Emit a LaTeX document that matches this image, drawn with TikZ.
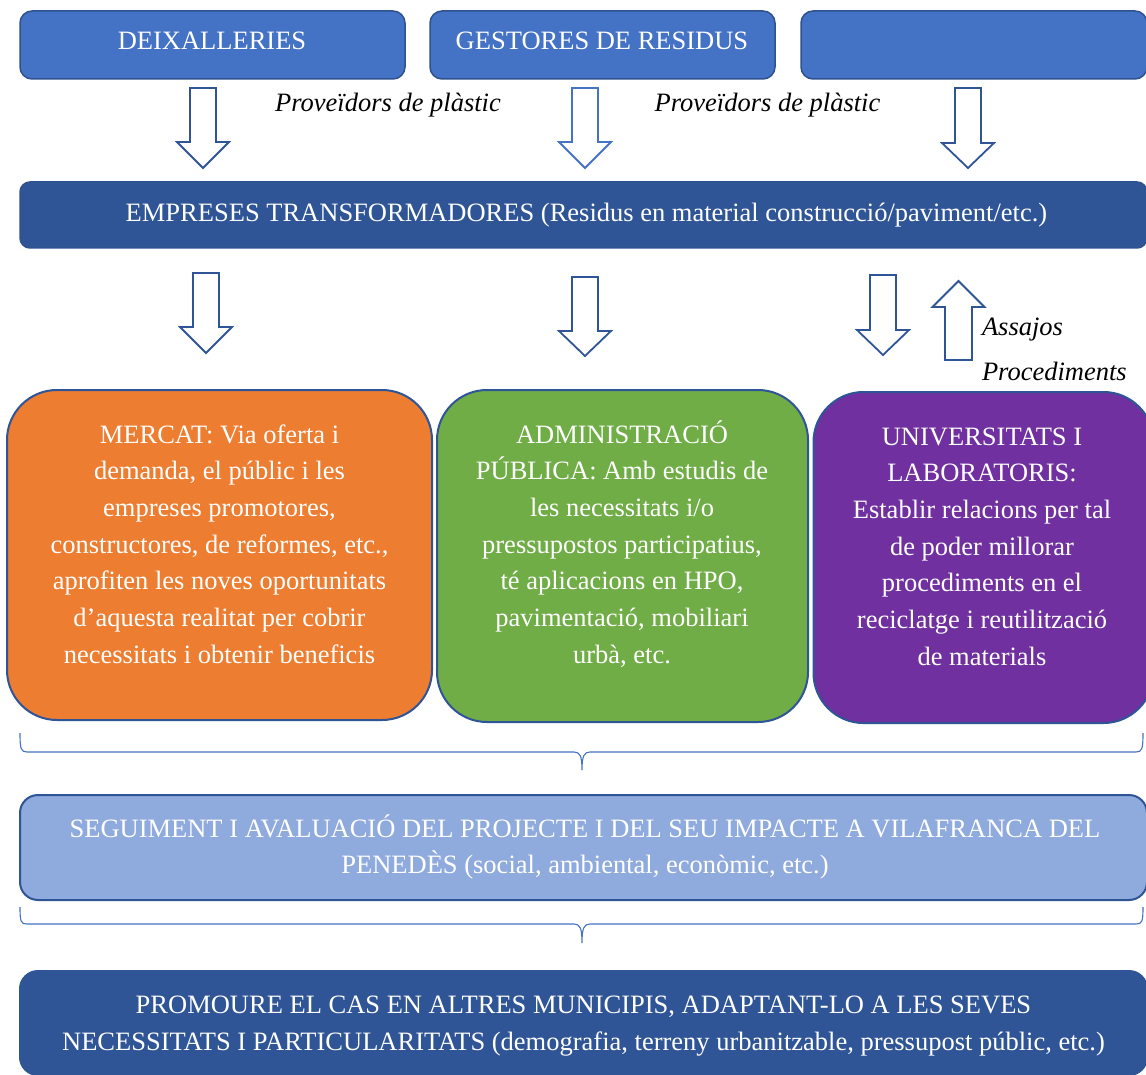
\documentclass[tikz,border=0pt]{standalone}
\usepackage{fontspec}
\setmainfont{Liberation Serif}
\definecolor{topblue}{HTML}{4472C4}
\definecolor{darkblue}{HTML}{2F5597}
\definecolor{edgeblue}{HTML}{2F528F}
\definecolor{orangebox}{HTML}{ED7D31}
\definecolor{greenbox}{HTML}{70AD47}
\definecolor{purplebox}{HTML}{7030A0}
\definecolor{lightbox}{HTML}{8FAADC}
\newcommand\downblk[5]{%
  \draw[blk,draw=#5] ({#1-13},#2) -- ({#1+13},#2) -- ({#1+13},#3) -- ({#1+26},#3)
    -- (#1,#4) -- ({#1-26},#3) -- ({#1-13},#3) -- cycle;}
\newcommand\upblk[5]{%
  \draw[blk,draw=#5] ({#1-13.5},#2) -- ({#1+13.5},#2) -- ({#1+13.5},#3) -- ({#1+26},#3)
    -- (#1,#4) -- ({#1-26},#3) -- ({#1-13.5},#3) -- cycle;}
\begin{document}
\begin{tikzpicture}[x=1pt,y=-1pt,
  every node/.style={inner sep=0pt, outer sep=0pt},
  txt/.style={font=\fontsize{26.5}{36.7}\selectfont, text=white, align=center},
  lbl/.style={font=\fontsize{26.5}{36.7}\selectfont\itshape, text=black},
  box/.style={draw=edgeblue, line width=1.5pt, anchor=north west},
  bigbox/.style={draw=darkblue, line width=2pt, anchor=north west, rounded corners=50pt},
  blk/.style={fill=white, line width=1.8pt, line join=miter},
  brc/.style={draw=topblue, line width=1.1pt}
]
\useasboundingbox (0,0) rectangle (1146,1075);
\fill[white] (0,0) rectangle (1146,1075);
\clip (0,0) rectangle (1146,1075);

% top boxes
\node[box, fill=topblue, rounded corners=12pt, minimum width=385pt, minimum height=68pt] (deix) at (20,11) {};
\node[txt, anchor=base] (deixT) at (212,50) {DEIXALLERIES};
\node[box, fill=topblue, rounded corners=12pt, minimum width=345pt, minimum height=68pt] (gest) at (430,11) {};
\node[txt, anchor=base] (gestT) at (602,50) {GESTORES DE RESIDUS};
\node[box, fill=topblue, rounded corners=12pt, minimum width=346pt, minimum height=68pt] (third) at (801,11) {};

% row 1 arrows
\downblk{203}{88}{142}{168}{darkblue}
\downblk{585}{88}{142}{168}{topblue}
\downblk{968}{88}{143}{168}{darkblue}
\node[lbl, anchor=base] (prov1) at (388,112) {Proveïdors de plàstic};
\node[lbl, anchor=base] (prov2) at (767.5,112) {Proveïdors de plàstic};

% empreses
\node[box, fill=darkblue, rounded corners=10pt, minimum width=1127pt, minimum height=66pt] (emp) at (20,182) {};
\node[txt, anchor=base] (empT) at (586.5,222) {EMPRESES TRANSFORMADORES (Residus en material construcció/paviment/etc.)};

% row 2 arrows
\downblk{206}{273}{327}{353}{darkblue}
\downblk{585}{277}{331}{356}{darkblue}
\downblk{883}{275}{330}{355}{darkblue}
\upblk{958.5}{360}{307}{281}{darkblue}
\node[lbl, anchor=base west] (assajos) at (982,335) {Assajos};
\node[lbl, anchor=base west] (proced) at (982,380) {Procediments};

% big coloured boxes
\node[bigbox, fill=orangebox, minimum width=425pt, minimum height=330pt] (mercat) at (7,390) {};
\node[txt, anchor=north] (mercatT) at (219.5,418) {\rule{0pt}{25pt}MERCAT: Via oferta i\\demanda, el públic i les\\empreses promotores,\\constructores, de reformes, etc.,\\aprofiten les noves oportunitats\\d’aquesta realitat per cobrir\\necessitats i obtenir beneficis};
\node[bigbox, fill=greenbox, minimum width=371pt, minimum height=332pt] (admin) at (437,390) {};
\node[txt, anchor=north] (adminT) at (622,418) {\rule{0pt}{25pt}ADMINISTRACIÓ\\PÚBLICA: Amb estudis de\\les necessitats i/o\\pressupostos participatius,\\té aplicacions en HPO,\\pavimentació, mobiliari\\urbà, etc.};
\node[bigbox, fill=purplebox, minimum width=340pt, minimum height=331pt] (univ) at (813.5,392) {};
\node[txt, anchor=north] (univT) at (982,420) {\rule{0pt}{25pt}UNIVERSITATS I\\LABORATORIS:\\Establir relacions per tal\\de poder millorar\\procediments en el\\reciclatge i reutilització\\de materials};

% brace 1
\draw[brc] (20,733) .. controls (20,749) and (21,752) .. (27,752) -- (574,752)
  .. controls (580,752) and (582,756) .. (582,770)
  .. controls (582,756) and (584,752) .. (590,752) -- (1136,752)
  .. controls (1142,752) and (1143,749) .. (1143,733);

% seguiment
\node[box, draw=darkblue, line width=2pt, fill=lightbox, rounded corners=18pt, minimum width=1127pt, minimum height=105pt] (seg) at (20,795) {};
\node[txt, anchor=north, font=\fontsize{26.5}{36.3}\selectfont] (segT) at (585,812) {\rule{0pt}{25pt}SEGUIMENT I AVALUACIÓ DEL PROJECTE I DEL SEU IMPACTE A VILAFRANCA DEL\\PENEDÈS (social, ambiental, econòmic, etc.)};

% brace 2
\draw[brc] (20,907) .. controls (20,922) and (21,924) .. (27,924) -- (574,924)
  .. controls (580,924) and (582,928) .. (582,943)
  .. controls (582,928) and (584,924) .. (590,924) -- (1136,924)
  .. controls (1142,924) and (1143,922) .. (1143,907);

% promoure
\node[box, draw=darkblue, line width=2pt, fill=darkblue, rounded corners=18pt, minimum width=1127pt, minimum height=104pt] (prom) at (20,971) {};
\node[txt, anchor=north, font=\fontsize{26.5}{37}\selectfont] (promT) at (583.5,988) {\rule{0pt}{25pt}PROMOURE EL CAS EN ALTRES MUNICIPIS, ADAPTANT-LO A LES SEVES\\NECESSITATS I PARTICULARITATS (demografia, terreny urbanitzable, pressupost públic, etc.)};
\end{tikzpicture}
\end{document}
